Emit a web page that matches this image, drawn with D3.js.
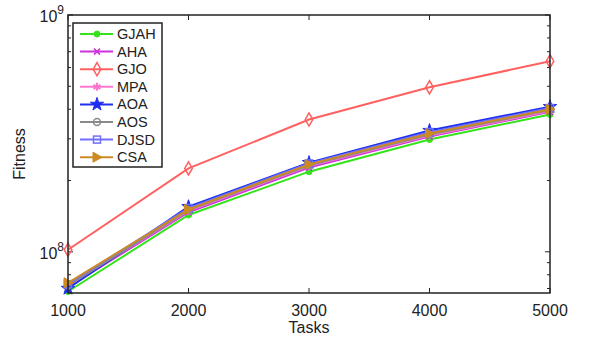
<!DOCTYPE html>
<html>
<head>
<meta charset="utf-8">
<script src="https://cdn.jsdelivr.net/npm/d3@7"></script>
<style>
  body { margin: 0; background: #fff; }
  text { font-family: "Liberation Sans", Arial, sans-serif; fill: #222; }
</style>
</head>
<body>
<svg width="596" height="339"></svg>
<script>
var tasks = [1000, 2000, 3000, 4000, 5000];
var xTicks = [1000, 2000, 3000, 4000, 5000];

var GJAH = [6.8e7, 1.43e8, 2.18e8, 2.98e8, 3.8e8];
var AHA  = [7.1e7, 1.47e8, 2.27e8, 3.07e8, 3.9e8];
var GJO  = [1.02e8, 2.25e8, 3.62e8, 4.95e8, 6.38e8];
var MPA  = [7.2e7, 1.49e8, 2.30e8, 3.10e8, 3.93e8];
var AOA  = [7.0e7, 1.55e8, 2.38e8, 3.25e8, 4.10e8];
var AOS  = [7.2e7, 1.50e8, 2.32e8, 3.13e8, 3.97e8];
var DJSD = [7.3e7, 1.53e8, 2.36e8, 3.20e8, 4.05e8];
var CSA  = [7.4e7, 1.51e8, 2.34e8, 3.16e8, 4.00e8];

var seriesNames = ["GJAH", "AHA", "GJO", "MPA", "AOA", "AOS", "DJSD", "CSA"];
var seriesData = [GJAH, AHA, GJO, MPA, AOA, AOS, DJSD, CSA];
var colors = ["#33e41a", "#cc33dd", "#ff6060", "#ff77cc", "#1f2ff0", "#8a8a8a", "#7070ff", "#cc8a22"];
var markers = ["dot", "x", "diamond", "asterisk", "star", "circle", "square", "triangle"];

var svg = d3.select("svg");
var pLeft = 68, pRight = 550, pTop = 15, pBottom = 293;

var x = d3.scaleLinear().domain([1000, 5000]).range([pLeft, pRight]);
var y = d3.scaleLog().domain([6.7e7, 1e9]).range([pBottom, pTop]);

// minor/major ticks, inward on all four sides
var g = svg.append("g").attr("stroke", "#222").attr("stroke-width", 1);
var yTicks = [];
for (var e = 7; e <= 8; e++) for (var m = 1; m <= 9; m++) {
  var v = m * Math.pow(10, e);
  if (v >= 6.7e7 && v <= 1e9) yTicks.push(v);
}
yTicks.push(1e9);
yTicks.forEach(function(v){
  var len = (v === 1e8 || v === 1e9) ? 5 : 3;
  g.append("line").attr("x1", pLeft).attr("x2", pLeft + len).attr("y1", y(v)).attr("y2", y(v));
  g.append("line").attr("x1", pRight).attr("x2", pRight - len).attr("y1", y(v)).attr("y2", y(v));
});
xTicks.forEach(function(v){
  g.append("line").attr("x1", x(v)).attr("x2", x(v)).attr("y1", pBottom).attr("y2", pBottom - 5);
  g.append("line").attr("x1", x(v)).attr("x2", x(v)).attr("y1", pTop).attr("y2", pTop + 5);
});

// tick labels
svg.selectAll(".xt").data(xTicks).enter().append("text")
  .attr("x", function(d){ return x(d); })
  .attr("y", 316)
  .attr("text-anchor", "middle")
  .style("font-size", "16px")
  .text(function(d){ return d; });

[8, 9].forEach(function(p){
  var t = svg.append("text")
    .attr("x", pLeft - 4)
    .attr("y", y(Math.pow(10, p)) + 7)
    .attr("text-anchor", "end")
    .style("font-size", "16px");
  t.append("tspan").text("10");
  t.append("tspan").attr("dy", -8).style("font-size", "12px").text(p);
});

svg.append("text")
  .attr("x", (pLeft + pRight) / 2)
  .attr("y", 333)
  .attr("text-anchor", "middle")
  .style("font-size", "16px")
  .text("Tasks");

svg.append("text")
  .attr("transform", "translate(25," + ((pTop + pBottom) / 2) + ") rotate(-90)")
  .attr("text-anchor", "middle")
  .style("font-size", "16px")
  .text("Fitness");

// marker drawing
function drawMarker(sel, type, color, cx, cy) {
  if (type === "dot") {
    sel.append("circle").attr("cx", cx).attr("cy", cy).attr("r", 3).attr("fill", color).attr("stroke", color);
  } else if (type === "x") {
    var s = 3;
    sel.append("path").attr("d", "M" + (cx - s) + "," + (cy - s) + "L" + (cx + s) + "," + (cy + s) + "M" + (cx - s) + "," + (cy + s) + "L" + (cx + s) + "," + (cy - s))
      .attr("stroke", color).attr("stroke-width", 1.5).attr("fill", "none");
  } else if (type === "diamond") {
    sel.append("path").attr("d", d3.symbol().type(d3.symbolDiamond).size(50)())
      .attr("transform", "translate(" + cx + "," + cy + ")")
      .attr("fill", "none").attr("stroke", color).attr("stroke-width", 1.5);
  } else if (type === "asterisk") {
    sel.append("path").attr("d", d3.symbol().type(d3.symbolAsterisk).size(45)())
      .attr("transform", "translate(" + cx + "," + cy + ")")
      .attr("fill", "none").attr("stroke", color).attr("stroke-width", 2);
  } else if (type === "star") {
    sel.append("path").attr("d", d3.symbol().type(d3.symbolStar).size(55)())
      .attr("transform", "translate(" + cx + "," + cy + ")")
      .attr("fill", color).attr("stroke", color);
  } else if (type === "circle") {
    sel.append("circle").attr("cx", cx).attr("cy", cy).attr("r", 3.5).attr("fill", "none").attr("stroke", color).attr("stroke-width", 1.5);
  } else if (type === "square") {
    sel.append("rect").attr("x", cx - 3.5).attr("y", cy - 3.5).attr("width", 7).attr("height", 7)
      .attr("fill", "none").attr("stroke", color).attr("stroke-width", 1.5);
  } else if (type === "triangle") {
    sel.append("path").attr("d", "M" + (cx - 4) + "," + (cy - 5) + "L" + (cx + 5) + "," + cy + "L" + (cx - 4) + "," + (cy + 5) + "Z")
      .attr("fill", color).attr("stroke", color);
  }
}

// series lines
var line = d3.line()
  .x(function(d, i){ return x(tasks[i]); })
  .y(function(d){ return y(d); });

var plot = svg.append("g");
seriesData.forEach(function(s, k){
  var sg = plot.append("g");
  sg.append("path").datum(s)
    .attr("d", line)
    .attr("fill", "none")
    .attr("stroke", colors[k])
    .attr("stroke-width", 2);
  s.forEach(function(v, i){ drawMarker(sg, markers[k], colors[k], x(tasks[i]), y(v)); });
});

// axes box
svg.append("rect")
  .attr("x", pLeft).attr("y", pTop)
  .attr("width", pRight - pLeft).attr("height", pBottom - pTop)
  .attr("fill", "none").attr("stroke", "#222").attr("stroke-width", 1.5);

// legend
var lg = svg.append("g");
lg.append("rect").attr("x", 73).attr("y", 23).attr("width", 89).attr("height", 144)
  .attr("fill", "#fff").attr("stroke", "#222").attr("stroke-width", 1.5);
seriesNames.forEach(function(n, k){
  var ly = 34 + k * 17.6;
  lg.append("line").attr("x1", 80).attr("x2", 113).attr("y1", ly).attr("y2", ly)
    .attr("stroke", colors[k]).attr("stroke-width", 2);
  drawMarker(lg, markers[k], colors[k], 97, ly);
  lg.append("text").attr("x", 117).attr("y", ly + 5).style("font-size", "14.5px").text(n);
});
</script>
</body>
</html>
